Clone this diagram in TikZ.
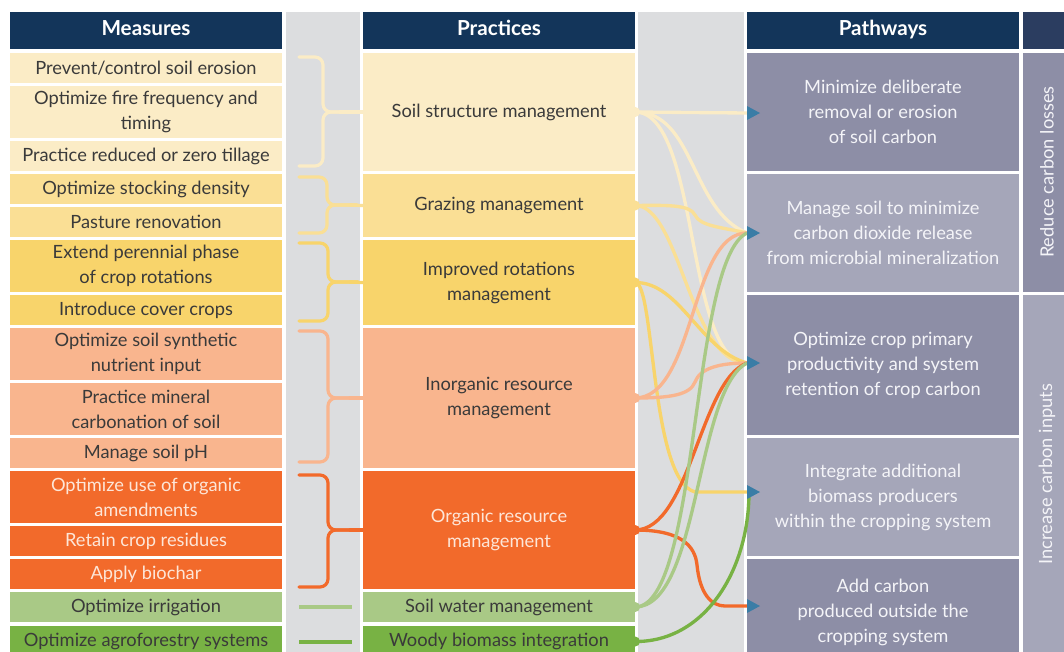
\documentclass[tikz,border=0pt]{standalone}
\usepackage{fontspec}
\setmainfont{Lato}
\definecolor{hdr}{HTML}{13355A}
\definecolor{hdrb}{HTML}{2B3D60}
\definecolor{band}{HTML}{DCDDDF}
\definecolor{cSoil}{HTML}{FBECC6}
\definecolor{cGraz}{HTML}{FADF95}
\definecolor{cRot}{HTML}{F8D46B}
\definecolor{cInorg}{HTML}{F9B58E}
\definecolor{cOrg}{HTML}{F26A2B}
\definecolor{cWat}{HTML}{A9C986}
\definecolor{cWood}{HTML}{78B244}
\definecolor{pDark}{HTML}{8D8EA6}
\definecolor{pLight}{HTML}{A5A6B9}
\definecolor{arr}{HTML}{3A7DA6}
\definecolor{txt}{HTML}{3A3A3A}
\definecolor{ltxt}{HTML}{F4F4F8}
\definecolor{otxt}{HTML}{FDE6D8}
\newcommand\mkcell[7]{%
  \pgfmathsetmacro\cw{(#4-#2)*0.75}%
  \pgfmathsetmacro\ch{(#5-#3)*0.75}%
  \node[cell,#6,minimum width=\cw pt,minimum height=\ch pt] (#1) at ({(#2+#4)/2},{(#3+#5)/2}) {#7};}
\newcommand\mktri[1]{\fill[arr] (#1) ++(0,-7) -- ++(13,7) -- ++(-13,7) -- cycle;}
\newcommand\mkbrace[6]{% xl, xv, top, mid, bot, color
  \draw[bracestyle,#6] (#1,#3) -- (#2,#3) -- (#2,#4) -- (#2+30,#4);
  \draw[bracestyle,#6] (#1,#5) -- (#2,#5) -- (#2,#4) -- (#2+30,#4);}
\tikzset{
  cell/.style={rectangle,inner sep=0pt,outer sep=0pt,align=center,text=txt,
    font=\fontsize{13.7}{18.7}\selectfont},
  head/.style={fill=hdr,text=white,font=\bfseries\fontsize{15.5}{18}\selectfont,
    text height=11pt,text depth=3pt},
  onorg/.style={text=otxt},
  onpath/.style={text=ltxt},
  bracestyle/.style={line width=2.4pt,rounded corners=6pt,line cap=round},
  conn/.style={line width=2.5pt},
}
\begin{document}
\begin{tikzpicture}[x=0.75pt,y=-0.75pt]
\useasboundingbox (0,0) rectangle (1064,651);
\clip (0,0) rectangle (1064,651);
\fill[white] (0,0) rectangle (1064,651);
% gray bands
\fill[band] (286,12) rectangle (360,660);
\fill[band] (638,12) rectangle (744,660);
% headers
\mkcell{h1}{10}{12}{282}{49}{head}{Measures}
\mkcell{h2}{363}{12}{635}{49}{head}{Practices}
\mkcell{h3}{747}{12}{1019}{49}{head}{Pathways}
\mkcell{h4}{1023}{12}{1075}{49}{fill=hdrb}{}
% measures
\mkcell{m1}{10}{53}{282}{83}{fill=cSoil}{Prevent/control soil erosion}
\mkcell{m2}{10}{86}{282}{138}{fill=cSoil}{Optimize fire frequency and\\timing}
\mkcell{m3}{10}{141}{282}{171}{fill=cSoil}{Practice reduced or zero tillage}
\mkcell{m4}{10}{174}{282}{204}{fill=cGraz}{Optimize stocking density}
\mkcell{m5}{10}{207}{282}{237}{fill=cGraz}{Pasture renovation}
\mkcell{m6}{10}{240}{282}{292}{fill=cRot}{Extend perennial phase\\of crop rotations}
\mkcell{m7}{10}{295}{282}{325}{fill=cRot}{Introduce cover crops}
\mkcell{m8}{10}{328}{282}{380}{fill=cInorg}{Optimize soil synthetic\\nutrient input}
\mkcell{m9}{10}{383}{282}{435}{fill=cInorg}{Practice mineral\\carbonation of soil}
\mkcell{m10}{10}{438}{282}{468}{fill=cInorg}{Manage soil pH}
\mkcell{m11}{10}{471}{282}{523}{fill=cOrg,onorg}{Optimize use of organic\\amendments}
\mkcell{m12}{10}{526}{282}{556}{fill=cOrg,onorg}{Retain crop residues}
\mkcell{m13}{10}{559}{282}{589}{fill=cOrg,onorg}{Apply biochar}
\mkcell{m14}{10}{592}{282}{622}{fill=cWat}{Optimize irrigation}
\mkcell{m15}{10}{626}{282}{657}{fill=cWood}{Optimize agroforestry systems}
% practices
\mkcell{p1}{363}{53}{635}{171}{fill=cSoil}{Soil structure management}
\mkcell{p2}{363}{174}{635}{237}{fill=cGraz}{Grazing management}
\mkcell{p3}{363}{240}{635}{325}{fill=cRot}{Improved rotations\\management}
\mkcell{p4}{363}{328}{635}{468}{fill=cInorg}{Inorganic resource\\management}
\mkcell{p5}{363}{471}{635}{589}{fill=cOrg,onorg}{Organic resource\\management}
\mkcell{p6}{363}{592}{635}{622}{fill=cWat}{Soil water management}
\mkcell{p7}{363}{626}{635}{657}{fill=cWood}{Woody biomass integration}
% pathways
\mkcell{w1}{747}{53}{1019}{171}{fill=pDark,onpath}{Minimize deliberate\\removal or erosion\\of soil carbon}
\mkcell{w2}{747}{174}{1019}{292}{fill=pLight,onpath}{Manage soil to minimize\\carbon dioxide release\\from microbial mineralization}
\mkcell{w3}{747}{295}{1019}{435}{fill=pDark,onpath}{Optimize crop primary\\productivity and system\\retention of crop carbon}
\mkcell{w4}{747}{438}{1019}{556}{fill=pLight,onpath}{Integrate additional\\biomass producers\\within the cropping system}
\mkcell{w5}{747}{559}{1019}{665}{fill=pDark,onpath}{Add carbon\\produced outside the\\cropping system}
% right column
\mkcell{r1}{1023}{53}{1075}{292}{fill=pDark}{}
\mkcell{r2}{1023}{295}{1075}{660}{fill=pLight}{}
\node[cell,onpath,rotate=90] (r1t) at (1047,172) {Reduce carbon losses};
\node[cell,onpath,rotate=90] (r2t) at (1047,474) {Increase carbon inputs};
% brackets
\mkbrace{299}{323}{57}{112}{166}{cSoil}
\draw[bracestyle,cSoil] (340,112) -- (p1.west);
\mkbrace{299}{327}{177}{205}{233}{cGraz}
\draw[bracestyle,cGraz] (350,205) -- (p2.west);
\mkbrace{299}{328}{243}{282}{321}{cRot}
\draw[bracestyle,cRot] (350,282) -- (p3.west);
\mkbrace{299}{328}{331}{398}{462}{cInorg}
\draw[bracestyle,cInorg] (350,398) -- (p4.west);
\mkbrace{299}{328}{475}{530}{587}{cOrg}
\draw[bracestyle,cOrg] (350,530) -- (p5.west);
\coordinate (wl1) at (299,607);
\coordinate (wl2) at (352,607);
\draw[line width=2.6pt,cWat] (wl1) -- (wl2);
\coordinate (gl1) at (299,642);
\coordinate (gl2) at (352,642);
\draw[line width=2.6pt,cWood] (gl1) -- (gl2);
% arrow anchors
\coordinate (a1) at (747,113);
\coordinate (a2) at (747,233);
\coordinate (a3) at (747,363);
\coordinate (a4) at (747,492);
\coordinate (a5) at (747,606);
% connectors
\draw[conn,cSoil] (p1.east) -- (a1);
\draw[conn,cSoil] (p1.east) .. controls (700,112) and (685,363) .. (a3);
\draw[conn,cSoil] (p1.east) .. controls (695,112) and (690,210) .. (a2);
\draw[conn,cGraz] (p2.east) .. controls (680,205) and (690,363) .. (a3);
\draw[conn,cGraz] (p2.east) .. controls (670,205) and (690,205) .. (695,215) .. controls (700,226) and (720,227) .. (a2);
\draw[conn,cRot] (p3.east) .. controls (680,282) and (700,350) .. (a3);
\draw[conn,cRot] (p3.east) .. controls (655,282) and (650,480) .. (695,492) -- (a4);
\draw[conn,cInorg] (p4.east) .. controls (695,398) and (690,233) .. (a2);
\draw[conn,cInorg] (p4.east) .. controls (670,398) and (690,395) .. (695,382) .. controls (700,368) and (720,363) .. (a3);
\draw[conn,cOrg] (p5.east) .. controls (690,530) and (700,380) .. (a3);
\draw[conn,cOrg] (p5.east) .. controls (680,530) and (695,545) .. (697,565) .. controls (700,595) and (712,606) .. (725,606) -- (a5);
\draw[conn,cWat] (p6.east) .. controls (700,607) and (690,260) .. (a2);
\draw[conn,cWat] (p6.east) .. controls (700,607) and (695,390) .. (a3);
\draw[conn,cWood] (p7.east) .. controls (705,642) and (749,570) .. ([xshift=1.5pt]a4);
% dots
\fill[cSoil] (p1.east) circle (3.8pt);
\fill[cGraz] (p2.east) circle (3.8pt);
\fill[cRot] (p3.east) circle (3.8pt);
\fill[cInorg] (p4.east) circle (3.8pt);
\fill[cOrg] (p5.east) circle (3.8pt);
\fill[cWat] (p6.east) circle (3.8pt);
\fill[cWood] (p7.east) circle (3.8pt);
% arrowheads
\mktri{a1}\mktri{a2}\mktri{a3}\mktri{a4}\mktri{a5}
\end{tikzpicture}
\end{document}
